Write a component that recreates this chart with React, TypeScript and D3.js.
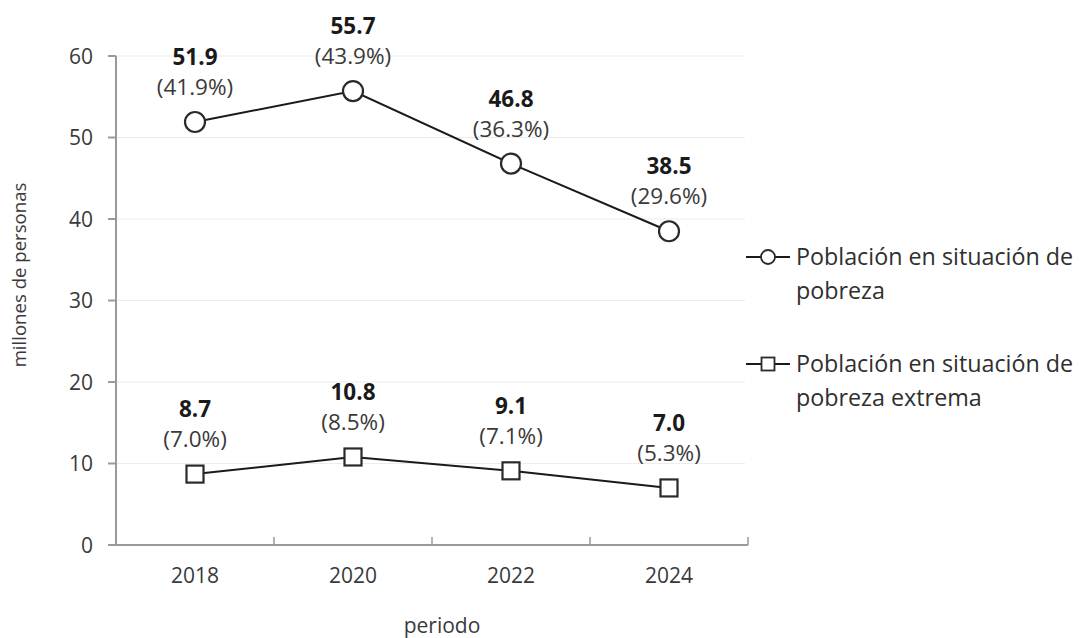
import React from "react";
import * as d3 from "d3";

const periods = ["2018", "2020", "2022", "2024"];
const pobreza = [51.9, 55.7, 46.8, 38.5];
const pobrezaPct = ["41.9%", "43.9%", "36.3%", "29.6%"];
const extrema = [8.7, 10.8, 9.1, 7.0];
const extremaPct = ["7.0%", "8.5%", "7.1%", "5.3%"];
const yTicks = [0, 10, 20, 30, 40, 50, 60];
const legendLabels = [
  ["Población en situación de", "pobreza"],
  ["Población en situación de", "pobreza extrema"],
];

const W = 1081;
const H = 638;
const left = 116;
const right = 748;
const top = 56;
const bottom = 545;
const FONT = "'Open Sans', 'Noto Sans', sans-serif";

export default function App() {
  const x = d3.scaleBand<string>().domain(periods).range([left, right]);
  const y = d3.scaleLinear().domain([0, 60]).range([bottom, top]);
  const cx = (p: string) => (x(p) as number) + x.bandwidth() / 2;
  const line = d3
    .line<number>()
    .x((_, i) => cx(periods[i]))
    .y((d) => y(d));

  const labelColor = "#3a3a3a";
  const sq = 17;

  const renderLabels = (vals: number[], pcts: string[], key: string) =>
    vals.map((v, i) => (
      <g key={key + i}>
        <text
          x={cx(periods[i])}
          y={y(v) - 57}
          textAnchor="middle"
          fontWeight="bold"
          fontSize={22.5}
          fill="#1a1a1a"
        >
          {v.toFixed(1)}
        </text>
        <text
          x={cx(periods[i])}
          y={y(v) - 27}
          textAnchor="middle"
          fontSize={22.5}
          fill={labelColor}
        >
          ({pcts[i]})
        </text>
      </g>
    ));

  return (
    <svg
      width={W}
      height={H}
      style={{ position: "absolute", left: 0, top: 0, background: "#fff" }}
      fontFamily={FONT}
    >
      {/* gridlines */}
      {yTicks.slice(1).map((t) => (
        <line
          key={"g" + t}
          x1={left}
          x2={right - 3}
          y1={y(t)}
          y2={y(t)}
          stroke="#ececec"
          strokeWidth={1.2}
        />
      ))}
      {/* y axis */}
      <line x1={left} x2={left} y1={top} y2={bottom} stroke="#9a9a9a" strokeWidth={2} />
      {yTicks.map((t) => (
        <g key={"yt" + t}>
          <line x1={left - 8} x2={left} y1={y(t)} y2={y(t)} stroke="#9a9a9a" strokeWidth={2} />
          <text
            x={93}
            y={y(t)}
            dy="0.36em"
            textAnchor="end"
            fontSize={21}
            fill={labelColor}
          >
            {t}
          </text>
        </g>
      ))}
      {/* x axis */}
      <line x1={left} x2={right} y1={bottom} y2={bottom} stroke="#9a9a9a" strokeWidth={2} />
      {periods.slice(1).concat(["end"]).map((p, i) => {
        const xx = i < 3 ? (x(p) as number) : right;
        return (
          <line key={"xt" + i} x1={xx} x2={xx} y1={bottom} y2={bottom - 8} stroke="#9a9a9a" strokeWidth={1.5} />
        );
      })}
      {periods.map((p) => (
        <text
          key={"xl" + p}
          x={cx(p)}
          y={583}
          textAnchor="middle"
          fontSize={21}
          fill={labelColor}
        >
          {p}
        </text>
      ))}
      <text x={442} y={633} textAnchor="middle" fontSize={21} fill={labelColor}>
        periodo
      </text>
      <text
        transform="translate(26, 275) rotate(-90)"
        textAnchor="middle"
        fontSize={18.6}
        fill={labelColor}
      >
        millones de personas
      </text>

      {/* lines */}
      <path d={line(pobreza) as string} fill="none" stroke="#1a1a1a" strokeWidth={2} />
      <path d={line(extrema) as string} fill="none" stroke="#1a1a1a" strokeWidth={2} />
      {pobreza.map((v, i) => (
        <circle key={"c" + i} cx={cx(periods[i])} cy={y(v)} r={10} fill="#fff" stroke="#2a2a2a" strokeWidth={2.2} />
      ))}
      {extrema.map((v, i) => (
        <rect
          key={"s" + i}
          x={cx(periods[i]) - sq / 2}
          y={y(v) - sq / 2}
          width={sq}
          height={sq}
          fill="#fff"
          stroke="#2a2a2a"
          strokeWidth={2.2}
        />
      ))}
      {renderLabels(pobreza, pobrezaPct, "p")}
      {renderLabels(extrema, extremaPct, "e")}

      {/* legend */}
      {legendLabels.map((lines, i) => {
        const ly = i === 0 ? 257 : 364;
        return (
          <g key={"lg" + i}>
            <line x1={746} x2={790} y1={ly} y2={ly} stroke="#1a1a1a" strokeWidth={1.8} />
            {i === 0 ? (
              <circle cx={768} cy={ly} r={7} fill="#fff" stroke="#2a2a2a" strokeWidth={1.8} />
            ) : (
              <rect x={768 - 6.5} y={ly - 6.5} width={13} height={13} fill="#fff" stroke="#2a2a2a" strokeWidth={1.8} />
            )}
            {lines.map((t, j) => (
              <text key={j} x={796} y={ly + 8 + j * 34} fontSize={23.3} fill="#2f2f2f">
                {t}
              </text>
            ))}
          </g>
        );
      })}
    </svg>
  );
}
